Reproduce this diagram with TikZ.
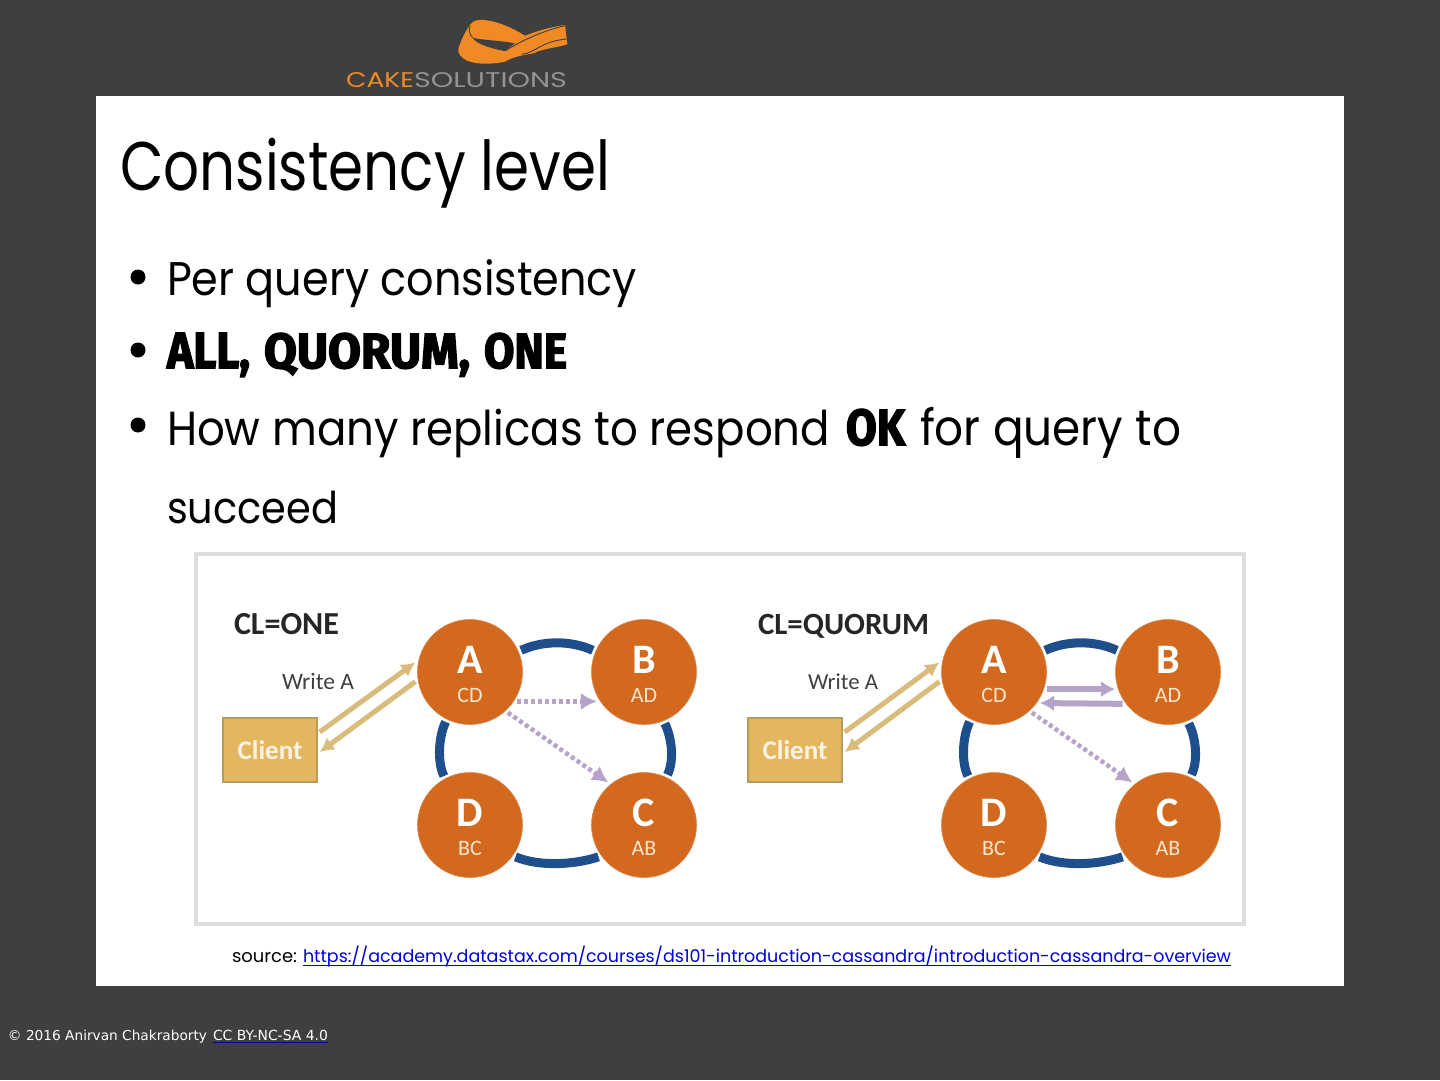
\documentclass[tikz,border=0pt]{standalone}
\usepackage{fontspec}
\usepackage{graphicx}
\setmainfont{Poppins}
\newfontfamily\imgfont{Carlito}
\newfontfamily\heavyfont{Fira Sans}[BoldFeatures={FakeBold=3}]
\newfontfamily\footfont{DejaVu Sans}
\usetikzlibrary{arrows.meta,calc}
\definecolor{slate}{HTML}{3F3F3F}
\definecolor{cakeorange}{HTML}{F08A24}
\definecolor{nodeorange}{HTML}{D2691E}
\definecolor{ringblue}{HTML}{1F4E8C}
\definecolor{tanline}{HTML}{D9BC7C}
\definecolor{clientfill}{HTML}{E3B75F}
\definecolor{clientedge}{HTML}{B89B5B}
\definecolor{lilac}{HTML}{B5A3C9}
\definecolor{framegray}{HTML}{DEDEDE}
\definecolor{linkblue}{HTML}{0000E0}
\newcommand{\fw}[2]{\resizebox{#1pt}{!}{#2}}
\newcommand{\fwy}[3]{\resizebox{#1pt}{!}{\scalebox{1}[#2]{#3}}}
\tikzset{
  txt/.style={anchor=base west,inner sep=0,outer sep=0},
  ring/.style={circle,fill=nodeorange,draw=nodeorange!80!white,line width=.6pt,minimum size=105pt,inner sep=0,outer sep=3pt},
  big/.style={text=white,inner sep=0,font=\imgfont\bfseries\fontsize{42}{42}\selectfont,anchor=center},
  small/.style={text=white!80!orange,inner sep=0,font=\imgfont\fontsize{22}{22}\selectfont,anchor=center},
  link/.style={ringblue,line width=9pt},
  client/.style={rectangle,fill=clientfill,draw=clientedge,line width=1.5pt,minimum width=94pt,minimum height=64pt,inner sep=0,text=white!90!orange,font=\imgfont\bfseries\fontsize{27}{27}\selectfont},
  tanarrow/.style={tanline,line width=5pt,-{Latex[length=14pt,width=15pt]}},
  solidlilac/.style={lilac,line width=6pt,-{Latex[length=14pt,width=16pt]}},
  dotlilac/.style={lilac,line width=4.5pt,dash pattern=on 4pt off 3pt,-{Latex[length=16pt,width=17pt]}},
  imglabel/.style={txt,text=black!85,font=\imgfont\bfseries},
  writelabel/.style={txt,text=black!75,font=\imgfont},
  bulletmark/.style={circle,fill=black,minimum size=15pt,inner sep=0,outer sep=0},
}
\begin{document}
\begin{tikzpicture}[x=1pt,y=-1pt]
\useasboundingbox (0,0) rectangle (1440,1080);
\fill[slate] (0,0) rectangle (1440,1080);
\fill[white] (96,96) rectangle (1344,986);
% logo
\begin{scope}[shift={(450,15)},scale=1/3]
\fill[cakeorange] (60,30) .. controls (70,15) and (85,14) .. (100,15)
  .. controls (140,18) and (180,35) .. (225,62)
  .. controls (270,45) and (310,35) .. (345,30)
  -- (352,88)
  .. controls (320,98) and (280,100) .. (250,115)
  .. controls (220,120) and (190,125) .. (165,140)
  .. controls (120,150) and (60,148) .. (40,130)
  .. controls (25,118) and (22,108) .. (27,95)
  .. controls (32,80) and (45,50) .. (60,30) -- cycle;
\fill[slate] (68,68) .. controls (90,75) and (140,75) .. (195,85)
  .. controls (180,95) and (170,105) .. (163,108)
  .. controls (120,100) and (75,85) .. (68,68) -- cycle;
\draw[slate,line width=.9pt] (60,32) .. controls (55,48) and (60,60) .. (68,68);
\draw[slate,line width=.9pt] (165,108) .. controls (210,80) and (270,50) .. (345,32);
\draw[slate,line width=.9pt] (215,118) .. controls (260,112) and (270,80) .. (350,72);
\end{scope}
\node[txt,text=cakeorange] (cake) at (346,87) {\resizebox{68pt}{15pt}{CAKE}};
\node[txt,text=gray!85] (sol) at (414,87) {\resizebox{153pt}{15pt}{SOLUTIONS}};
% text
\node[txt] (title) at (120,190) {\fwy{490}{1.22}{Consistency level}};
\node[bulletmark] (b1) at (138,277) {};
\node[txt] (l1) at (167,295) {\fwy{470}{1.1}{Per query consistency}};
\node[bulletmark] (b2) at (138,350) {};
\node[txt] (l2a) at (167,368) {\resizebox{83pt}{35pt}{\heavyfont\bfseries ALL,}};
\node[txt] (l2b) at (264,368) {\resizebox{206pt}{35pt}{\heavyfont\bfseries QUORUM,}};
\node[txt] (l2c) at (484,368) {\resizebox{83pt}{35pt}{\heavyfont\bfseries ONE}};
\node[bulletmark] (b3) at (138,425) {};
\node[txt] (l3) at (167,445) {\fwy{663}{1.1}{How many replicas to respond}};
\node[txt] (ok) at (846,445) {\resizebox{59pt}{36pt}{\heavyfont\bfseries OK}};
\node[txt] (l3b) at (920,445) {\fwy{261}{1.1}{for query to}};
\node[txt] (l4) at (167,523) {\fwy{171}{1.1}{succeed}};
% image frame
\draw[framegray,line width=4pt,fill=white] (196,554) rectangle (1244,924);
% left panel
\node[imglabel] (cl1) at (234,634) {\resizebox{105pt}{!}{CL=ONE}};
\node[writelabel] (w1) at (282,689) {\resizebox{72pt}{!}{Write A}};
\node[client] (c1) at (270,750) {Client};
\node[ring] (A1) at (470,672) {}; \node[ring] (B1) at (644,672) {};
\node[ring] (D1) at (470,825) {}; \node[ring] (C1) at (644,825) {};
\node[big] at (470,660) {A}; \node[small] at (470,695) {CD};
\node[big] at (644,660) {B}; \node[small] at (644,695) {AD};
\node[big] at (470,813) {D}; \node[small] at (470,848) {BC};
\node[big] at (644,813) {C}; \node[small] at (644,848) {AB};
\draw[link] (A1.23) .. controls +(22,-10) and +(-22,-10) .. (B1.157);
\draw[link] (A1.-116) .. controls +(-7,14) and +(-7,-14) .. (D1.118);
\draw[link] (B1.-68) .. controls +(7,14) and +(7,-14) .. (C1.65);
\draw[link] (D1.-35) .. controls +(24,10) and +(-24,8) .. (C1.-145);
\draw[tanarrow] ($(c1.east)+(2,-18)$) -- (A1.170);
\draw[tanarrow] (A1.-170) -- ($(c1.east)+(2,2)$);
\draw[dotlilac] (A1.-32) -- (B1.-148);
\draw[dotlilac] (A1.-47) -- (C1.130);
% right panel
\node[imglabel] (cl2) at (758,634) {\resizebox{171pt}{!}{CL=QUORUM}};
\node[writelabel] (w2) at (808,689) {\resizebox{70pt}{!}{Write A}};
\node[client] (c2) at (795,750) {Client};
\node[ring] (A2) at (994,672) {}; \node[ring] (B2) at (1168,672) {};
\node[ring] (D2) at (994,825) {}; \node[ring] (C2) at (1168,825) {};
\node[big] at (994,660) {A}; \node[small] at (994,695) {CD};
\node[big] at (1168,660) {B}; \node[small] at (1168,695) {AD};
\node[big] at (994,813) {D}; \node[small] at (994,848) {BC};
\node[big] at (1168,813) {C}; \node[small] at (1168,848) {AB};
\draw[link] (A2.23) .. controls +(22,-10) and +(-22,-10) .. (B2.157);
\draw[link] (A2.-116) .. controls +(-7,14) and +(-7,-14) .. (D2.118);
\draw[link] (B2.-68) .. controls +(7,14) and +(7,-14) .. (C2.65);
\draw[link] (D2.-35) .. controls +(24,10) and +(-24,8) .. (C2.-145);
\draw[tanarrow] ($(c2.east)+(2,-18)$) -- (A2.170);
\draw[tanarrow] (A2.-170) -- ($(c2.east)+(2,2)$);
\draw[solidlilac] (A2.-18) -- (B2.-162);
\draw[solidlilac] (B2.-145) -- (A2.-34);
\draw[dotlilac] (A2.-47) -- (C2.130);
% source
\node[txt] (src) at (232,962) {\fw{65}{source:}};
\node[txt,text=linkblue] (url) at (303,962) {\fw{928}{https://academy.datastax.com/courses/ds101-introduction-cassandra/introduction-cassandra-overview}};
\draw[linkblue,line width=1.2pt] ($(url.base west)+(0,3.5)$) -- ($(url.base east)+(0,3.5)$);
% footer
\node[txt,text=white!85] (f1) at (8,1040) {\fw{199}{\footfont © 2016 Anirvan Chakraborty}};
\node[txt,text=white!85] (f2) at (213,1040) {\fw{115}{\footfont CC BY-NC-SA 4.0}};
\draw[linkblue!70!black,line width=1pt] ($(f2.base west)+(0,2.5)$) -- ($(f2.base east)+(0,2.5)$);
\end{tikzpicture}
\end{document}
